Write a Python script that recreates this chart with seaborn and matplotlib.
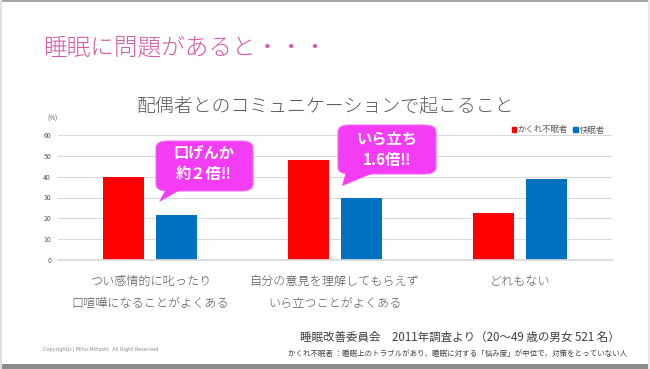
import pandas as pd
import seaborn as sns
import matplotlib.pyplot as plt
from matplotlib.patches import FancyBboxPatch, Polygon, Rectangle

# --- data ---
items = ["つい感情的に叱ったり\n口喧嘩になることがよくある",
         "自分の意見を理解してもらえず\nいら立つことがよくある",
         "どれもない"]
groups = ["かくれ不眠者", "快眠者"]
hidden_insomnia = [40, 48, 22.5]
good_sleepers = [21.5, 30, 39]
yticks = [0, 10, 20, 30, 40, 50, 60]

df = pd.DataFrame({
    "item": items * 2,
    "group": [groups[0]] * 3 + [groups[1]] * 3,
    "value": hidden_insomnia + good_sleepers,
})

sns.set_theme(style="white")
plt.rcParams['font.family'] = ['Noto Sans CJK JP', 'DejaVu Sans']

W, H = 650, 369
fig = plt.figure(figsize=(6.5, 3.69), dpi=100)
fig.patch.set_facecolor("white")


def fx(px):
    return px / W


def fy(py):
    return 1 - py / H


ax = fig.add_axes([fx(58), fy(260), fx(612) - fx(58), fy(135) - fy(260)])
sns.barplot(data=df, x="item", y="value", hue="group",
            palette=["#ff0000", "#0070c0"], width=0.574, gap=0.226,
            linewidth=0, saturation=1, ax=ax, legend=False)

ax.set_xlim(-0.5, 2.5)
ax.set_ylim(0, 60)
ax.set_yticks(yticks)
ax.grid(axis="y", color="#d9d9d9", linewidth=0.8)
ax.set_axisbelow(True)
for s in ["top", "right", "left"]:
    ax.spines[s].set_visible(False)
ax.spines["bottom"].set_color("#d9d9d9")
ax.set_xlabel("")
ax.set_ylabel("")
ax.tick_params(axis="y", length=0, pad=5, labelsize=5, labelcolor="#595959")
ax.tick_params(axis="x", length=0, pad=11, labelsize=8.7, labelcolor="#595959")
for lbl in ax.get_xticklabels():
    lbl.set_linespacing(1.85)
    lbl.set_fontweight("light")

# legend
handles = [Rectangle((0, 0), 1, 1, color=c) for c in ["#ff0000", "#0070c0"]]
fig.legend(handles, groups, loc="center", bbox_to_anchor=(fx(558), fy(130)),
           ncol=2, frameon=False, fontsize=6, handlelength=0.55, handleheight=0.55,
           handletextpad=0.2, columnspacing=0.6, labelcolor="#595959")

# titles
fig.text(fx(43), fy(48), "睡眠に問題があると・・・", fontsize=17, color="#d35aa4",
         ha="left", va="center", fontweight="light")
fig.text(fx(326), fy(106), "配偶者とのコミュニケーションで起こること", fontsize=13.6,
         color="#595959", ha="center", va="center", fontweight="light")
fig.text(fx(52), fy(119), "(%)", fontsize=4.5, color="#595959", ha="center", va="center")

# callouts
pink = "#f43cf4"


def callout(x0, y0, x1, y1, tail, lines):
    box = FancyBboxPatch((fx(x0), fy(y1)), fx(x1) - fx(x0), fy(y0) - fy(y1),
                         boxstyle="round,pad=0,rounding_size=0.018",
                         transform=fig.transFigure, facecolor=pink,
                         edgecolor="#f070f0", linewidth=0.8)
    fig.add_artist(box)
    tri = Polygon([(fx(px), fy(py)) for px, py in tail], closed=True,
                  transform=fig.transFigure, facecolor=pink, edgecolor="none")
    fig.add_artist(tri)
    for (tx, ty, t) in lines:
        fig.text(fx(tx), fy(ty), t, fontsize=11, color="white", fontweight="bold",
                 ha="center", va="center")


callout(156, 141, 253, 191, [(166, 189), (182, 189), (159, 202)],
        [(204, 153, "口げんか"), (204, 174, "約２倍‼")])
callout(338, 125, 436, 174, [(346, 172), (376, 172), (342, 186)],
        [(387, 138, "いら立ち"), (387, 160, "1.6倍‼")])

# footer
fig.text(fx(620), fy(337), "睡眠改善委員会　2011年調査より（20～49 歳の男女 521 名）",
         fontsize=8.3, color="#404040", ha="right", va="center")
fig.text(fx(627), fy(354),
         "かくれ不眠者 ：睡眠上のトラブルがあり、睡眠に対する「悩み度」が中位で、対策をとっていない人",
         fontsize=5.4, color="#404040", ha="right", va="center")
fig.text(fx(43), fy(349), "Copyright(c) Miho.Mihashi. All Right Reserved",
         fontsize=3.6, color="#8c8c8c", ha="left", va="center", family="DejaVu Sans")

# slide frame
fig.add_artist(Rectangle((0, fy(2)), 1, fy(0) - fy(2), transform=fig.transFigure,
                         facecolor="#a6a6a6", edgecolor="none"))
fig.add_artist(Rectangle((0, 0), 1, fy(364), transform=fig.transFigure,
                         facecolor="#8c8c8c", edgecolor="none"))
fig.add_artist(Rectangle((0, 0), fx(2), 1, transform=fig.transFigure,
                         facecolor="#e0e0e0", edgecolor="none"))
fig.add_artist(Rectangle((fx(648), 0), fx(2), 1, transform=fig.transFigure,
                         facecolor="#e8e8e8", edgecolor="none"))

fig.savefig("out.png", dpi=100)
